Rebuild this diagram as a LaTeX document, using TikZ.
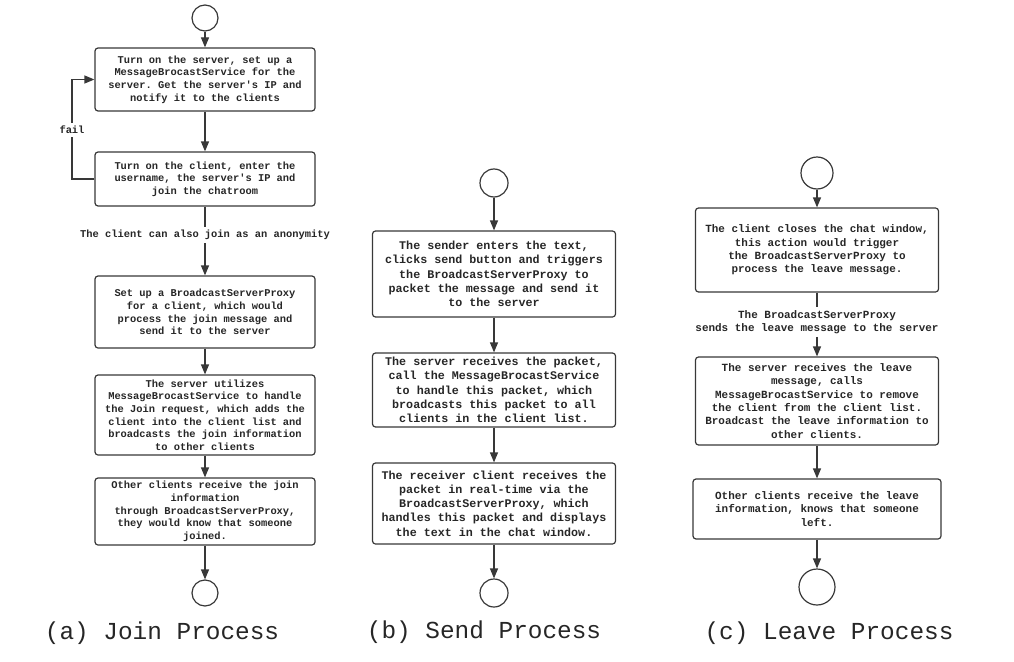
\documentclass[tikz,border=0pt]{standalone}
\usepackage{fontspec}
\setmonofont{Liberation Mono}
\usetikzlibrary{arrows.meta}

\begin{document}
\begin{tikzpicture}[x=1pt,y=-1pt,
    flow_box/.style={draw=black!78,line width=1.2pt,rounded corners=3pt,align=center,inner sep=2pt,text=black!85},
    term_node/.style={circle,draw=black!78,line width=1.2pt,inner sep=0pt},
    note_node/.style={align=center,inner sep=3pt,fill=white,text=black!85},
    cap_node/.style={font=\ttfamily\fontsize{24.4}{28}\selectfont,text=black!85},
    txt_a/.style={font=\ttfamily\bfseries\fontsize{10.4}{12.6}\selectfont},
    txt_b/.style={font=\ttfamily\bfseries\fontsize{11.7}{14.3}\selectfont},
    txt_c/.style={font=\ttfamily\bfseries\fontsize{10.95}{13.3}\selectfont},
    flow_line/.style={draw=black!78,line width=1.2pt},
    flow_arrow/.style={flow_line,-{Triangle[length=10pt,width=8pt]}}]
    \useasboundingbox (0,0) rectangle (1014,661);

    % (a) join process
    \node[term_node,minimum size=26pt] (a0) at (205,18) {};
    \node[flow_box,txt_a,minimum width=220pt,minimum height=63pt] (a1) at (205,79.5)
        {Turn on the server, set up a\\ MessageBrocastService for the\\ server. Get the server's IP and\\ notify it to the clients};
    \node[flow_box,txt_a,minimum width=220pt,minimum height=54pt] (a2) at (205,179)
        {Turn on the client, enter the\\ username, the server's IP and\\ join the chatroom};
    \node[note_node,txt_a] (na) at (205,235) {The client can also join as an anonymity};
    \node[note_node,txt_a] (fail) at (72,130) {fail};
    \node[flow_box,txt_a,minimum width=220pt,minimum height=72pt] (a3) at (205,312)
        {Set up a BroadcastServerProxy\\ for a client, which would\\ process the join message and\\ send it to the server};
    \node[flow_box,txt_a,minimum width=220pt,minimum height=80pt] (a4) at (205,415)
        {The server utilizes\\ MessageBrocastService to handle\\ the Join request, which adds the\\ client into the client list and\\ broadcasts the join information\\ to other clients};
    \node[flow_box,txt_a,minimum width=220pt,minimum height=67pt] (a5) at (205,511.5)
        {Other clients receive the join\\ information\\ through BroadcastServerProxy,\\ they would know that someone\\ joined.};
    \node[term_node,minimum size=26pt] (a6) at (205,593) {};
    \node[cap_node] (ca) at (162,633) {(a) Join Process};

    \draw[flow_arrow] (a0) -- (a1);
    \draw[flow_arrow] (a1) -- (a2);
    \draw[flow_line] (a2) -- (na);
    \draw[flow_arrow] (na) -- (a3);
    \draw[flow_arrow] (a3) -- (a4);
    \draw[flow_arrow] (a4) -- (a5);
    \draw[flow_arrow] (a5) -- (a6);
    \draw[flow_line] (a2.west) -| (fail);
    \draw[flow_arrow] (fail) |- (a1.west);

    % (b) send process
    \node[term_node,minimum size=28pt] (b0) at (494,183) {};
    \node[flow_box,txt_b,minimum width=243pt,minimum height=86pt] (b1) at (494,274)
        {The sender enters the text,\\ clicks send button and triggers\\ the BroadcastServerProxy to\\ packet the message and send it\\ to the server};
    \node[flow_box,txt_b,minimum width=243pt,minimum height=74pt] (b2) at (494,390)
        {The server receives the packet,\\ call the MessageBrocastService\\ to handle this packet, which\\ broadcasts this packet to all\\ clients in the client list.};
    \node[flow_box,txt_b,minimum width=243pt,minimum height=81pt] (b3) at (494,503.5)
        {The receiver client receives the\\ packet in real-time via the\\ BroadcastServerProxy, which\\ handles this packet and displays\\ the text in the chat window.};
    \node[term_node,minimum size=28pt] (b4) at (494,593) {};
    \node[cap_node] (cb) at (484,632) {(b) Send Process};

    \draw[flow_arrow] (b0) -- (b1);
    \draw[flow_arrow] (b1) -- (b2);
    \draw[flow_arrow] (b2) -- (b3);
    \draw[flow_arrow] (b3) -- (b4);

    % (c) leave process
    \node[term_node,minimum size=32pt] (c0) at (817,173) {};
    \node[flow_box,txt_c,minimum width=243pt,minimum height=84pt] (c1) at (817,250)
        {The client closes the chat window,\\ this action would trigger\\ the BroadcastServerProxy to\\ process the leave message.};
    \node[note_node,txt_c] (nc) at (817,322) {The BroadcastServerProxy\\ sends the leave message to the server};
    \node[flow_box,txt_c,minimum width=243pt,minimum height=88pt] (c2) at (817,401)
        {The server receives the leave\\ message, calls\\ MessageBrocastService to remove\\ the client from the client list.\\ Broadcast the leave information to\\ other clients.};
    \node[flow_box,txt_c,minimum width=248pt,minimum height=60pt] (c3) at (817,509)
        {Other clients receive the leave\\ information, knows that someone\\ left.};
    \node[term_node,minimum size=36pt] (c4) at (817,587) {};
    \node[cap_node] (cc) at (829,633) {(c) Leave Process};

    \draw[flow_arrow] (c0) -- (c1);
    \draw[flow_line] (c1) -- (nc);
    \draw[flow_arrow] (nc) -- (c2);
    \draw[flow_arrow] (c2) -- (c3);
    \draw[flow_arrow] (c3) -- (c4);
\end{tikzpicture}
\end{document}
